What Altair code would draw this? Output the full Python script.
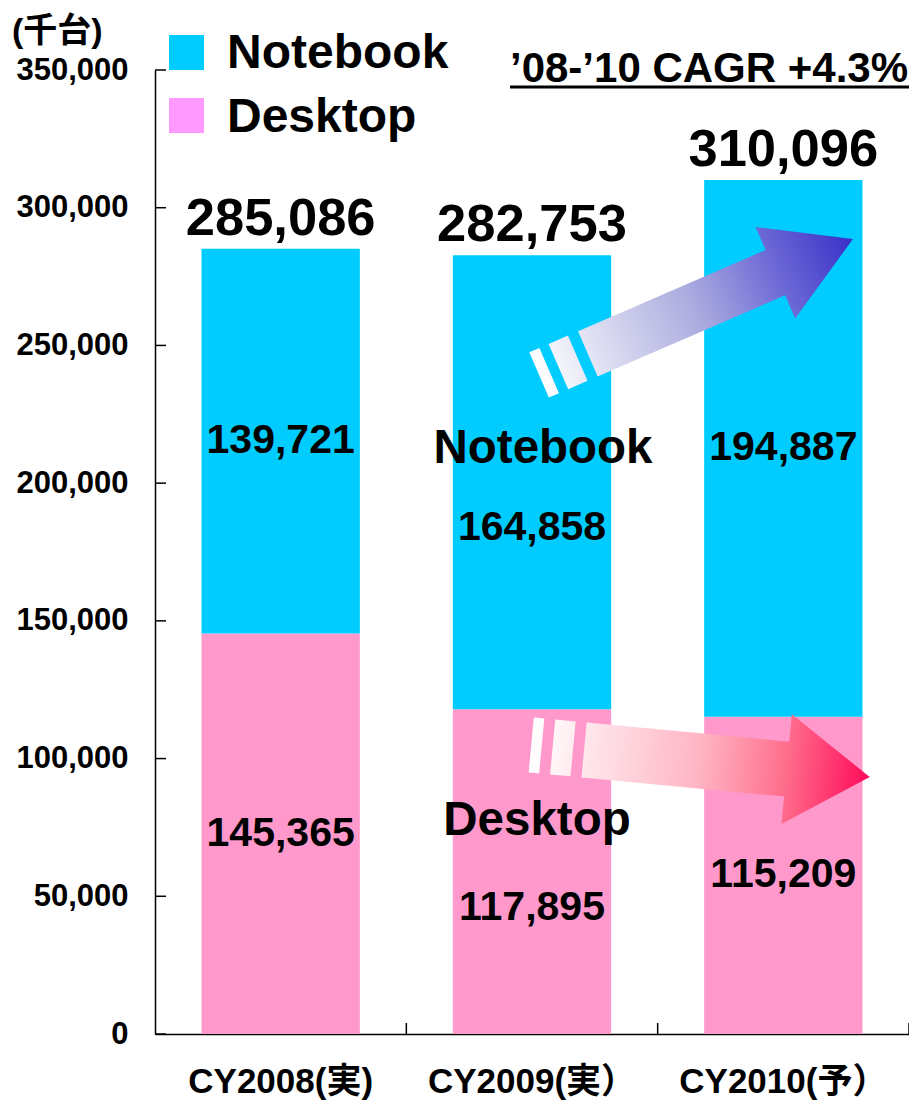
import altair as alt
import pandas as pd

# ---------------- data ----------------
years = ["CY2008(実)", "CY2009(実）", "CY2010(予）"]
desktop = [145365, 117895, 115209]
notebook = [139721, 164858, 194887]
series_names = ["Notebook", "Desktop"]
bar_colors = ["#00CCFF", "#FF99CC"]
legend_colors = ["#00CCFF", "#FF99FF"]
y_ticks = [0, 50000, 100000, 150000, 200000, 250000, 300000, 350000]
cagr_text = ["’08-’10 CAGR +4.3%"]
unit_text = ["(千台)"]

rows = []
for i, yr in enumerate(years):
    rows.append({"year": yr, "series": "Desktop", "value": desktop[i], "order": 0})
    rows.append({"year": yr, "series": "Notebook", "value": notebook[i], "order": 1})
df = pd.DataFrame(rows)

W, H = 754, 964
FONT = "Liberation Sans, Arial, Noto Sans CJK JP, sans-serif"

xscale = alt.Scale(domain=years, paddingInner=0, paddingOuter=0)
yscale = alt.Scale(domain=[0, 350000], nice=False, zero=True)
color_scale = alt.Scale(domain=series_names, range=bar_colors)

x_axis = alt.Axis(title=None, labelAngle=0, ticks=False, domainColor="black",
                  domainWidth=1.5, labelFontSize=35, labelFontWeight="bold",
                  labelPadding=30, labelColor="black", labelFont=FONT,
                  labelLimit=400)
y_axis = alt.Axis(title=None, values=y_ticks, format=",d", ticks=False, grid=False,
                  domainColor="black", domainWidth=1.5, labelFontSize=31,
                  labelFontWeight="bold", labelPadding=27, labelColor="black",
                  labelFont=FONT)


def X(**kw):
    return alt.X("year:N", scale=xscale, sort=years, axis=x_axis, **kw)


def Y(field):
    return alt.Y(field, scale=yscale, axis=y_axis)


stacked = alt.Chart(df).transform_stack(
    stack="value", groupby=["year"], as_=["v0", "v1"],
    sort=[alt.SortField("order", order="ascending")]
)

bars = stacked.mark_bar(width=alt.RelativeBandSize(0.63)).encode(
    x=X(),
    y=Y("v0:Q"),
    y2="v1:Q",
    color=alt.Color("series:N", scale=color_scale, legend=None),
)

mid = stacked.transform_calculate(mid="(datum.v0 + datum.v1) / 2")
label_style = dict(fontSize=41, fontWeight="bold", baseline="middle", font=FONT, color="black")


def inner_layer(filt, dy=0):
    return mid.transform_filter(filt).mark_text(dy=dy, **label_style).encode(
        x=X(),
        y=Y("mid:Q"),
        text=alt.Text("value:Q", format=","),
    )


inner_main = inner_layer(alt.datum.year != years[1])
inner_09_nb = inner_layer((alt.datum.year == years[1]) & (alt.datum.series == "Notebook"), dy=46)
inner_09_dt = inner_layer((alt.datum.year == years[1]) & (alt.datum.series == "Desktop"), dy=36)

totals = alt.Chart(df).transform_aggregate(
    total="sum(value)", groupby=["year"]
).mark_text(fontSize=52.5, fontWeight="bold", baseline="alphabetic", dy=-14,
            font=FONT, color="black").encode(
    x=X(),
    y=Y("total:Q"),
    text=alt.Text("total:Q", format=","),
)

# inward tick marks
yticks = alt.Chart(pd.DataFrame({"tick": y_ticks})).mark_rule(
    color="black", strokeWidth=1.5).encode(
    y=Y("tick:Q"),
    x=alt.value(0), x2=alt.value(11),
)
xticks = alt.Chart(pd.DataFrame({"year": years})).mark_rule(
    color="black", strokeWidth=1.5).encode(
    x=X(bandPosition=1),
    y=alt.value(H - 11), y2=alt.value(H),
)

# gradient arrows
nb_path = ("M -1 -0.1443 L -0.9355 -0.1443 L -0.9355 0.1443 L -1 0.1443 Z "
           "M -0.8768 -0.1443 L -0.7537 -0.1443 L -0.7537 0.1443 L -0.8768 0.1443 Z "
           "M -0.6891 -0.1443 L 0.5056 -0.1443 L 0.5056 -0.2915 L 1 0 L 0.5056 0.2915 "
           "L 0.5056 0.1443 L -0.6891 0.1443 Z")
dt_path = ("M -1 -0.162 L -0.938 -0.162 L -0.938 0.162 L -1 0.162 Z "
           "M -0.8735 -0.162 L -0.753 -0.162 L -0.753 0.162 L -0.8735 0.162 Z "
           "M -0.688 -0.162 L 0.509 -0.162 L 0.509 -0.324 L 1 0 L 0.509 0.324 "
           "L 0.509 0.162 L -0.688 0.162 Z")
nb_grad = alt.LinearGradient(
    gradient="linear", x1=0, y1=0, x2=1, y2=0,
    stops=[alt.GradientStop(color="#FFFFFF", offset=0),
           alt.GradientStop(color="#AAAADF", offset=0.5),
           alt.GradientStop(color="#6E6AD6", offset=0.75),
           alt.GradientStop(color="#3A30C8", offset=1)])
dt_grad = alt.LinearGradient(
    gradient="linear", x1=0, y1=0, x2=1, y2=0,
    stops=[alt.GradientStop(color="#FFFFFF", offset=0),
           alt.GradientStop(color="#FFB4C3", offset=0.5),
           alt.GradientStop(color="#FF6E8C", offset=0.75),
           alt.GradientStop(color="#FF0A5A", offset=1)])

arrow_df = pd.DataFrame({"series": series_names})
nb_arrow = alt.Chart(arrow_df).transform_filter(alt.datum.series == "Notebook").mark_point(
    shape=nb_path, size=342 * 342, angle=336.6, filled=True, fill=nb_grad,
    strokeWidth=0, opacity=1).encode(x=alt.value(541), y=alt.value(237))
dt_arrow = alt.Chart(arrow_df).transform_filter(alt.datum.series == "Desktop").mark_point(
    shape=dt_path, size=340 * 340, angle=5.4, filled=True, fill=dt_grad,
    strokeWidth=0, opacity=1).encode(x=alt.value(545.5), y=alt.value(691))

# in-plot annotations
ann_style = dict(fontSize=47.5, fontWeight="bold", baseline="alphabetic", align="center",
                 font=FONT, color="black")
nb_ann = alt.Chart(arrow_df).transform_filter(alt.datum.series == "Notebook").mark_text(
    **ann_style).encode(x=alt.value(388), y=alt.value(393), text="series:N")
dt_ann = alt.Chart(arrow_df).transform_filter(alt.datum.series == "Desktop").mark_text(
    **ann_style).encode(x=alt.value(382), y=alt.value(765), text="series:N")

# custom legend
leg_df = pd.DataFrame({"label": series_names, "color": legend_colors})


def legend_entry(name, ysym, ytxt):
    src = alt.Chart(leg_df).transform_filter(alt.datum.label == name)
    sq = src.mark_square(size=1225, opacity=1, filled=True, strokeWidth=0).encode(
        x=alt.value(31.5), y=alt.value(ysym),
        color=alt.Color("color:N", scale=None))
    tx = src.mark_text(fontSize=48, fontWeight="bold", align="left", baseline="alphabetic",
                       font=FONT, color="black").encode(
        x=alt.value(72), y=alt.value(ytxt), text="label:N")
    return sq + tx


leg_nb = legend_entry("Notebook", -17.5, -2)
leg_dt = legend_entry("Desktop", 45.5, 62)

# CAGR note + unit label
cagr = alt.Chart(pd.DataFrame({"t": cagr_text})).mark_text(
    fontSize=42, fontWeight="bold", align="right", baseline="alphabetic",
    font=FONT, color="black").encode(x=alt.value(753), y=alt.value(12), text="t:N")
cagr_line = alt.Chart(pd.DataFrame({"t": cagr_text})).mark_rule(
    color="black", strokeWidth=3).encode(x=alt.value(355), x2=alt.value(754), y=alt.value(17))
unit = alt.Chart(pd.DataFrame({"t": unit_text})).mark_text(
    fontSize=34, fontWeight="bold", align="left", baseline="alphabetic",
    font=FONT, color="black").encode(x=alt.value(-143), y=alt.value(-28), text="t:N")

chart = alt.layer(
    bars, xticks, yticks, nb_arrow, dt_arrow,
    inner_main, inner_09_nb, inner_09_dt, totals,
    nb_ann, dt_ann, leg_nb, leg_dt, cagr, cagr_line, unit,
).properties(
    width=W, height=H,
    autosize=alt.AutoSizeParams(type="none"),
    padding={"left": 147, "top": 62, "right": 0, "bottom": 66},
    background="white",
).configure_view(stroke="transparent")

chart.save("out.html", embed_options={"renderer": "svg", "actions": False})
